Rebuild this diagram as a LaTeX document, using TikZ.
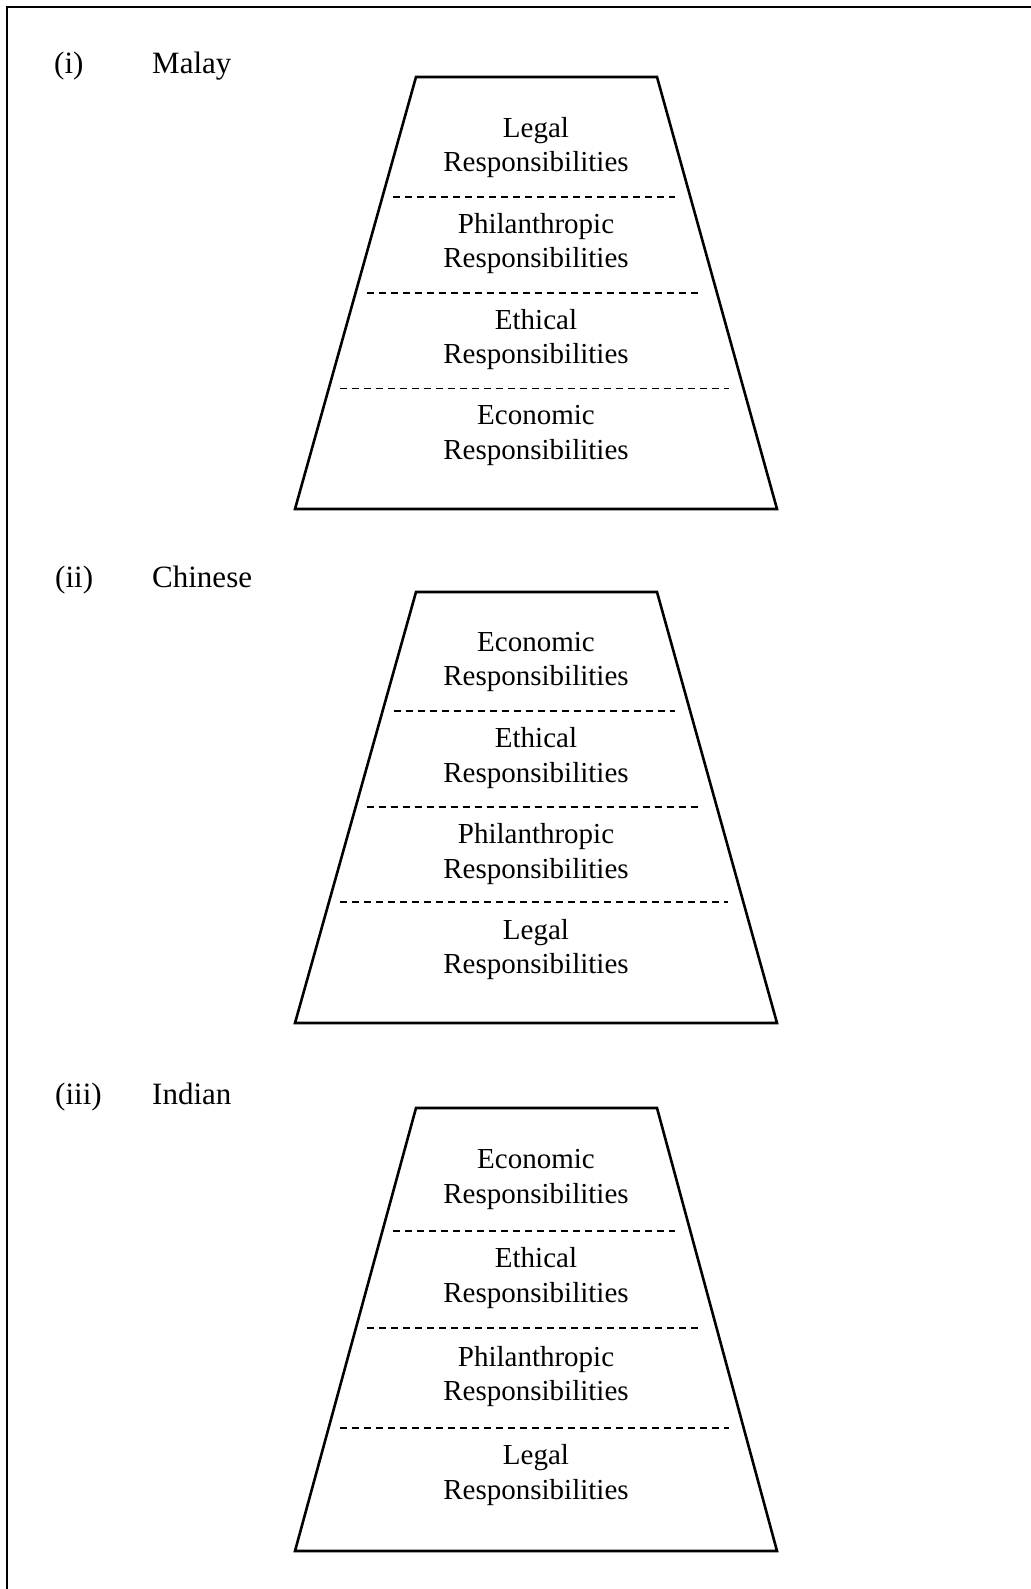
\documentclass[tikz,border=0pt]{standalone}
\usepackage{fontspec}
\setmainfont{Liberation Serif}
\usetikzlibrary{calc}
\tikzset{
  frameline/.style={line width=2pt},
  trapline/.style={line width=2.6pt, line join=miter},
  dashline/.style={line width=1.6pt, dash pattern=on 7pt off 5pt},
  blocktext/.style={align=center, inner sep=0pt, anchor=center, font=\fontsize{29}{34.4}\selectfont},
  lbl/.style={inner sep=0pt, anchor=base west, font=\fontsize{31}{36}\selectfont}
}
\newcommand\mydashrow[3]{%
  \pgfmathsetmacro\myff{(#3-#1)/(#2-#1)}%
  \pgfmathsetmacro\myxl{416-121*\myff+11}%
  \pgfmathsetmacro\myxr{657+120*\myff-15}%
  \draw[dashline] (\myxl,#3) -- (\myxr,#3);}
\newcommand\mytrap[3]{% name, top, bottom
  \coordinate (#1tl) at (416,#2);
  \coordinate (#1tr) at (657,#2);
  \coordinate (#1br) at (777,#3);
  \coordinate (#1bl) at (295,#3);
  \draw[trapline] (#1tl) -- (#1tr) -- (#1br) -- (#1bl) -- cycle;}
\begin{document}
\begin{tikzpicture}[x=1pt,y=-1pt]
\useasboundingbox (0,0) rectangle (1030,1589);
\fill[white] (0,0) rectangle (1030,1589);
\draw[frameline] (7,1595) -- (7,7) -- (1036,7);

% (i) Malay
\node[lbl] (n1) at (54,74) {(i)};
\node[lbl] (m1) at (152,74) {Malay};
\mytrap{a}{77}{509}
\mydashrow{77}{509}{197}
\mydashrow{77}{509}{293}
\mydashrow{77}{509}{388.5}
\node[blocktext] (a1) at (536,147.7) {Legal\\Responsibilities};
\node[blocktext] (a2) at (536,243.6) {Philanthropic\\Responsibilities};
\node[blocktext] (a3) at (536,339.5) {Ethical\\Responsibilities};
\node[blocktext] (a4) at (536,435.4) {Economic\\Responsibilities};

% (ii) Chinese
\node[lbl] (n2) at (55,587.3) {(ii)};
\node[lbl] (m2) at (152,587.3) {Chinese};
\mytrap{b}{592}{1023}
\mydashrow{592}{1023}{711}
\mydashrow{592}{1023}{807}
\mydashrow{592}{1023}{902}
\node[blocktext] (b1) at (536,662.1) {Economic\\Responsibilities};
\node[blocktext] (b2) at (536,758) {Ethical\\Responsibilities};
\node[blocktext] (b3) at (536,853.9) {Philanthropic\\Responsibilities};
\node[blocktext] (b4) at (536,949.8) {Legal\\Responsibilities};

% (iii) Indian
\node[lbl] (n3) at (55,1104.3) {(iii)};
\node[lbl] (m3) at (152,1104.3) {Indian};
\mytrap{c}{1108}{1551}
\mydashrow{1108}{1551}{1231}
\mydashrow{1108}{1551}{1328}
\mydashrow{1108}{1551}{1428}
\node[blocktext] (c1) at (536,1179.5) {Economic\\Responsibilities};
\node[blocktext] (c2) at (536,1278) {Ethical\\Responsibilities};
\node[blocktext] (c3) at (536,1376.5) {Philanthropic\\Responsibilities};
\node[blocktext] (c4) at (536,1475) {Legal\\Responsibilities};
\end{tikzpicture}
\end{document}
